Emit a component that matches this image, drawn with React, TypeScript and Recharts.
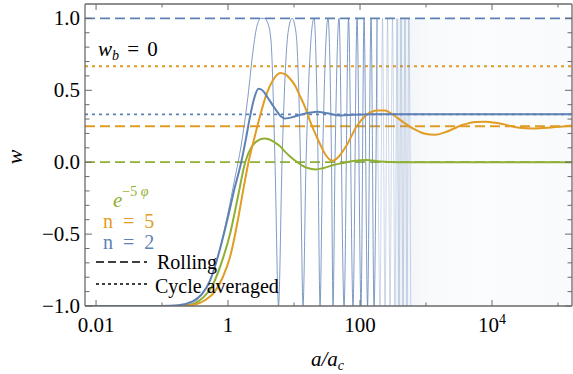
import React from 'react';
import { LineChart, Line, XAxis, YAxis, ReferenceLine, ReferenceArea } from 'recharts';

const BLUE = '#5E81B5';
const ORANGE = '#E19C24';
const GREEN = '#8FB032';
const FRAME = '#6a6a6a';
const FONT = 'Liberation Serif';

// points are [log10(a/a_c), w]
const n2Averaged: [number, number][] = [
  [-2.17, -1], [-1.0, -1], [-0.75, -0.995], [-0.55, -0.97], [-0.4, -0.92], [-0.27, -0.82],
  [-0.12, -0.6], [0.0, -0.38], [0.1, -0.18], [0.2, 0.0], [0.27, 0.16], [0.33, 0.31],
  [0.4, 0.45], [0.46, 0.51], [0.52, 0.5], [0.6, 0.45], [0.7, 0.38], [0.8, 0.32],
  [0.86, 0.303], [0.95, 0.31], [1.1, 0.33], [1.25, 0.345], [1.35, 0.35], [1.5, 0.34],
  [1.7, 0.325], [1.9, 0.33], [2.2, 0.334], [5.21, 0.333],
];

const n5Averaged: [number, number][] = [
  [-2.17, -1], [-0.7, -1], [-0.5, -0.99], [-0.35, -0.96], [-0.2, -0.9], [-0.08, -0.8],
  [0.03, -0.66], [0.15, -0.4], [0.22, -0.22], [0.31, 0.0], [0.4, 0.17], [0.49, 0.33],
  [0.58, 0.47], [0.68, 0.57], [0.79, 0.62], [0.87, 0.61], [0.94, 0.58], [1.02, 0.53],
  [1.09, 0.46], [1.17, 0.38], [1.24, 0.29], [1.32, 0.2], [1.39, 0.13], [1.48, 0.05],
  [1.58, 0.01], [1.68, 0.04], [1.8, 0.12], [1.95, 0.25], [2.1, 0.33], [2.26, 0.36],
  [2.38, 0.36], [2.5, 0.33], [2.65, 0.28], [2.8, 0.235], [2.97, 0.2], [3.14, 0.19],
  [3.3, 0.21], [3.56, 0.26], [3.75, 0.28], [3.9, 0.282], [4.1, 0.27], [4.42, 0.24],
  [4.62, 0.235], [4.9, 0.242], [5.21, 0.255],
];

const expAveraged: [number, number][] = [
  [-2.17, -1], [-0.8, -1], [-0.55, -0.99], [-0.4, -0.95], [-0.25, -0.87], [-0.1, -0.7],
  [0.03, -0.5], [0.15, -0.24], [0.26, 0.0], [0.35, 0.1], [0.45, 0.15], [0.55, 0.165],
  [0.62, 0.16], [0.7, 0.14], [0.79, 0.11], [0.87, 0.07], [0.94, 0.04], [1.05, 0.0],
  [1.15, -0.03], [1.25, -0.045], [1.33, -0.05], [1.45, -0.04], [1.6, -0.02], [1.75, -0.005],
  [1.9, 0.008], [2.1, 0.015], [2.3, 0.005], [2.6, 0.0], [5.21, 0.0],
];

// rolling n = 2: clearly resolved oscillations
const n2Rolling: [number, number][] = [
  [-2.17, -1], [-0.8, -1], [-0.6, -0.99], [-0.45, -0.95], [-0.3, -0.85], [-0.15, -0.65],
  [0.0, -0.35], [0.1, -0.12], [0.2, 0.12], [0.3, 0.45], [0.38, 0.78], [0.44, 0.95],
  [0.5, 1.0], [0.55, 1.0], [0.6, 0.97], [0.65, 0.85], [0.712, 0.0], [0.765, -1],
  [0.818, 0.0], [0.909, 0.9], [0.97, 1.0], [1.03, 0.9], [1.098, 0.0], [1.136, -1],
  [1.182, 0.0], [1.303, 1.0], [1.364, 0.0], [1.394, -1], [1.432, 0.0], [1.515, 1],
  [1.568, 0.0], [1.591, -1], [1.621, 0.0], [1.682, 1], [1.758, -1], [1.826, 1],
  [1.894, -1], [1.955, 1], [2.015, -1], [2.061, 1], [2.114, -1], [2.167, 1],
  [2.212, -1], [2.258, 1],
];
// rolling n = 2: fading, crowded oscillations
const n2RollingDense: [number, number][] = [
  [2.258, 1], [2.303, -1], [2.341, 1], [2.379, -1], [2.417, 1],
  [2.455, -1], [2.492, 1], [2.53, -1], [2.561, 1], [2.591, -1], [2.621, 1],
  [2.652, -1], [2.682, 1], [2.712, -1], [2.74, 1], [2.768, -1],
];

const rollingLevels = [
  { w: 1.0, color: BLUE },
  { w: 0.25, color: ORANGE },
  { w: 0.0, color: GREEN },
];
const averagedLevels = [
  { w: 0.667, color: ORANGE },
  { w: 0.333, color: BLUE },
];

const denseStart = 10 ** 2.55;
const X_MIN = 0.0068;
const X_MAX = 163000;
const xTicks = [0.01, 0.1, 1, 10, 100, 1000, 10000, 100000];
const xLabels: Record<string, string> = { '0.01': '0.01', '1': '1', '100': '100', '10000': '10^4' };
const yTicks = [-1, -0.9, -0.8, -0.7, -0.6, -0.5, -0.4, -0.3, -0.2, -0.1, 0, 0.1, 0.2, 0.3, 0.4, 0.5, 0.6, 0.7, 0.8, 0.9, 1.0];

const toPts = (arr: [number, number][]) => arr.map(([L, w]) => ({ a: 10 ** L, w }));

const isMajorY = (v: number) => Math.abs(v * 2 - Math.round(v * 2)) < 1e-6;
const fmtY = (v: number) => (v < 0 ? '\u2212' : '') + Math.abs(v).toFixed(1);

const txt = { fontFamily: FONT, whiteSpace: 'pre' as const };

const BottomTick = (p: any) => {
  const v = p.payload.value;
  const lab = xLabels[String(v)];
  const major = !!lab;
  return (
    <g>
      <line x1={p.x} x2={p.x} y1={p.y} y2={p.y - (major ? 6 : 3.5)} stroke={FRAME} strokeWidth={1} />
      {lab && (
        <text x={p.x} y={p.y + 26} textAnchor="middle" style={txt} fontSize={21} fill="#000">
          {lab.includes('^') ? (
            <>
              <tspan>10</tspan>
              <tspan fontSize={14} dy={-8}>4</tspan>
            </>
          ) : (
            lab
          )}
        </text>
      )}
    </g>
  );
};

const TopTick = (p: any) => {
  const v = p.payload.value;
  const major = !!xLabels[String(v)];
  return <line x1={p.x} x2={p.x} y1={p.y} y2={p.y + (major ? 6 : 3.5)} stroke={FRAME} strokeWidth={1} />;
};

const LeftTick = (p: any) => {
  const v = p.payload.value;
  const major = isMajorY(v);
  return (
    <g>
      <line x1={p.x} x2={p.x + (major ? 7 : 4.5)} y1={p.y} y2={p.y} stroke={FRAME} strokeWidth={1} />
      {major && (
        <text x={p.x - 5} y={p.y + 7} textAnchor="end" style={txt} fontSize={21} fill="#000">
          {fmtY(v)}
        </text>
      )}
    </g>
  );
};

const RightTick = (p: any) => {
  const v = p.payload.value;
  const major = isMajorY(v);
  return <line x1={p.x} x2={p.x - (major ? 7 : 4.5)} y1={p.y} y2={p.y} stroke={FRAME} strokeWidth={1} />;
};

export default function App() {
  return (
    <div style={{ position: 'absolute', left: 0, top: 0, width: 573, height: 374, background: '#fff', fontFamily: FONT }}>
      <LineChart width={573} height={374} margin={{ top: 0, right: 0, bottom: 0, left: 0 }}>
        <defs>
          <linearGradient id="dense" x1="0" x2="1" y1="0" y2="0">
            <stop offset="0" stopColor={BLUE} stopOpacity={0.22} />
            <stop offset="0.08" stopColor={BLUE} stopOpacity={0.14} />
            <stop offset="0.2" stopColor={BLUE} stopOpacity={0.08} />
            <stop offset="0.5" stopColor={BLUE} stopOpacity={0.05} />
            <stop offset="1" stopColor={BLUE} stopOpacity={0.08} />
          </linearGradient>
        </defs>
        <XAxis
          dataKey="a"
          type="number"
          scale="log"
          domain={[X_MIN, X_MAX]}
          allowDataOverflow
          ticks={xTicks}
          interval={0}
          height={68}
          tickSize={0}
          tickMargin={0}
          tickLine={false}
          tick={BottomTick}
          axisLine={{ stroke: FRAME, strokeWidth: 1.3 }}
        />
        <XAxis
          xAxisId="top"
          orientation="top"
          dataKey="a"
          type="number"
          scale="log"
          domain={[X_MIN, X_MAX]}
          allowDataOverflow
          ticks={xTicks}
          interval={0}
          height={4}
          tickSize={0}
          tickMargin={0}
          tickLine={false}
          tick={TopTick}
          axisLine={{ stroke: FRAME, strokeWidth: 1.3 }}
        />
        <YAxis
          type="number"
          domain={[-1, 1.1]}
          allowDataOverflow
          ticks={yTicks}
          interval={0}
          width={85}
          tickSize={0}
          tickMargin={0}
          tickLine={false}
          tick={LeftTick}
          axisLine={{ stroke: FRAME, strokeWidth: 1.3 }}
        />
        <YAxis
          yAxisId="right"
          orientation="right"
          type="number"
          domain={[-1, 1.1]}
          allowDataOverflow
          ticks={yTicks}
          interval={0}
          width={1}
          tickSize={0}
          tickMargin={0}
          tickLine={false}
          tick={RightTick}
          axisLine={{ stroke: FRAME, strokeWidth: 1.3 }}
        />
        <ReferenceArea x1={denseStart} x2={X_MAX} y1={-1} y2={1} fill="url(#dense)" stroke="none" ifOverflow="hidden" />
        {rollingLevels.map((l, i) => (
          <ReferenceLine key={'r' + i} y={l.w} stroke={l.color} strokeWidth={1.8} strokeDasharray="10 5" />
        ))}
        {averagedLevels.map((l, i) => (
          <ReferenceLine key={'c' + i} y={l.w} stroke={l.color} strokeWidth={1.8} strokeDasharray="3 4" />
        ))}
        <Line data={toPts(n2Rolling)} dataKey="w" type="monotoneX" stroke={BLUE} strokeWidth={0.8} dot={false} isAnimationActive={false} />
        <Line data={toPts(n2RollingDense)} dataKey="w" type="monotoneX" stroke={BLUE} strokeOpacity={0.45} strokeWidth={0.7} dot={false} isAnimationActive={false} />
        <Line data={toPts(expAveraged)} dataKey="w" type="monotoneX" stroke={GREEN} strokeWidth={2} dot={false} isAnimationActive={false} />
        <Line data={toPts(n5Averaged)} dataKey="w" type="monotoneX" stroke={ORANGE} strokeWidth={2} dot={false} isAnimationActive={false} />
        <Line data={toPts(n2Averaged)} dataKey="w" type="monotoneX" stroke={BLUE} strokeWidth={2} dot={false} isAnimationActive={false} />
      </LineChart>
      <svg width={573} height={374} style={{ position: 'absolute', left: 0, top: 0, pointerEvents: 'none' }}>
        <text x={98} y={56} fontSize={21} fill="#000" style={txt}>
          <tspan fontStyle="italic">w</tspan>
          <tspan fontStyle="italic" fontSize={14} dy={4}>b</tspan>
          <tspan dy={-4} wordSpacing={3}> = 0</tspan>
        </text>
        <text x={113} y={207} fontSize={21} fill={GREEN} style={txt}>
          <tspan fontStyle="italic">e</tspan>
          <tspan fontSize={14} dy={-11}>{'\u22125 '}</tspan>
          <tspan fontSize={14} fontStyle="italic">φ</tspan>
        </text>
        <text x={103} y={228} fontSize={20} fill={ORANGE} wordSpacing={5} style={txt}>n = 5</text>
        <text x={103} y={249} fontSize={20} fill={BLUE} wordSpacing={5} style={txt}>n = 2</text>
        <line x1={96} x2={147} y1={262} y2={262} stroke="#000" strokeWidth={1.6} strokeDasharray="8 4" />
        <text x={157} y={269} fontSize={20} fill="#000" style={txt}>Rolling</text>
        <line x1={96} x2={147} y1={284} y2={284} stroke="#000" strokeWidth={1.6} strokeDasharray="3 3" />
        <text x={155} y={293} fontSize={20} fill="#000" style={txt}>Cycle averaged</text>
        <text x={22} y={157} fontSize={22} fontStyle="italic" textAnchor="middle" transform="rotate(-90 22 157)" fill="#000" style={txt}>w</text>
        <text x={311} y={366} fontSize={21} fontStyle="italic" fill="#000" style={txt}>
          <tspan>a/a</tspan>
          <tspan fontSize={14} dy={4}>c</tspan>
        </text>
      </svg>
    </div>
  );
}
